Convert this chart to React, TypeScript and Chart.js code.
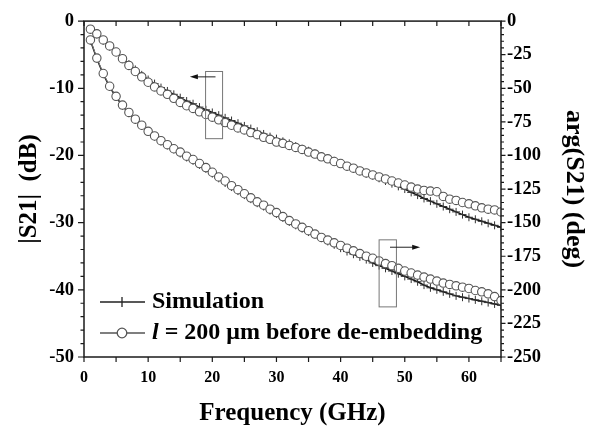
import React, { useEffect, useRef } from "react";
import { Chart, registerables } from "chart.js";
Chart.register(...registerables);

// ---------- data ----------
const freqGHz = [
  1, 2, 3, 4, 5, 6, 7, 8, 9, 10, 11, 12, 13, 14, 15, 16, 17, 18, 19, 20,
  21, 22, 23, 24, 25, 26, 27, 28, 29, 30, 31, 32, 33, 34, 35, 36, 37, 38, 39, 40,
  41, 42, 43, 44, 45, 46, 47, 48, 49, 50, 51, 52, 53, 54, 55, 56, 57, 58, 59, 60,
  61, 62, 63, 64, 65,
];

// |S21| (dB), left axis
const magSim = [
  -1.2, -2.0, -2.9, -3.8, -4.6, -5.5, -6.4, -7.2, -8.0, -8.7,
  -9.3, -9.9, -10.4, -10.9, -11.4, -11.9, -12.3, -12.8, -13.2, -13.6,
  -14.0, -14.4, -14.8, -15.2, -15.6, -16.0, -16.4, -16.8, -17.2, -17.5,
  -17.9, -18.2, -18.6, -19.0, -19.3, -19.7, -20.1, -20.5, -20.8, -21.2,
  -21.6, -21.9, -22.3, -22.7, -23.0, -23.4, -23.8, -24.2, -24.6, -25.0,
  -25.5, -25.9, -26.4, -26.8, -27.2, -27.6, -28.0, -28.4, -28.8, -29.2,
  -29.5, -29.8, -30.1, -30.4, -30.7,
];
const magMeas = [
  -1.2, -1.9, -2.8, -3.7, -4.6, -5.6, -6.6, -7.5, -8.3, -9.1,
  -9.8, -10.4, -10.9, -11.5, -12.1, -12.6, -13.0, -13.5, -13.9, -14.3,
  -14.7, -15.1, -15.5, -15.9, -16.2, -16.6, -16.9, -17.3, -17.6, -18.0,
  -18.2, -18.5, -18.8, -19.1, -19.5, -19.8, -20.2, -20.5, -20.9, -21.2,
  -21.6, -21.9, -22.3, -22.6, -22.9, -23.2, -23.5, -23.8, -24.1, -24.4,
  -24.7, -25.0, -25.2, -25.3, -25.4, -26.1, -26.5, -26.7, -27.0, -27.2,
  -27.5, -27.8, -28.0, -28.1, -28.4,
];

// arg(S21) (deg), right axis
const phaseSim = [
  -14.5, -28, -39.5, -49, -56.5, -63, -68.5, -73.5, -78, -82.5,
  -86, -89.5, -92.5, -95.5, -98.5, -101.5, -104, -107, -110, -113.5,
  -117, -120.5, -123.5, -126.5, -129.5, -132.5, -135.5, -138, -141, -143.5,
  -146.5, -149.5, -152, -154.5, -157, -159, -161.5, -164, -166.5, -169,
  -171.5, -173.5, -175.5, -177.5, -180, -182, -184, -186, -188, -190,
  -192, -194, -196.5, -198.5, -200, -201.5, -203, -204.5, -205.5, -206.5,
  -207.5, -208.5, -209.5, -210.5, -211.5,
];
const phaseMeas = [
  -14, -27.5, -39, -48.5, -56, -62.5, -68, -73, -77.5, -82,
  -85.5, -89, -92, -95, -97.5, -100.5, -103, -106, -109, -112.5,
  -116, -119, -122.5, -125.5, -128.5, -131.5, -134.5, -137, -140, -142.5,
  -145.5, -148.5, -151, -153.5, -156, -158.5, -161, -163, -165, -167,
  -169, -171, -173, -175, -176.5, -178.5, -180.5, -182, -184, -186,
  -187.5, -189, -190.5, -192, -193.5, -195, -196, -197, -198, -199,
  -200.5, -201.5, -203, -205, -208,
];

const legendLabels = ["Simulation", "l", " = 200 \u03bcm before de-embedding"];

// ---------- styling ----------
const FONT = "'Liberation Serif', 'Times New Roman', serif";

const pts = (ys: number[]) => freqGHz.map((x, i) => ({ x, y: ys[i] }));

const framePlugin = {
  id: "frameTicks",
  afterDraw(chart: any) {
    const { ctx, chartArea: a, scales } = chart;
    const x = scales.x, y = scales.y, y2 = scales.y2;
    ctx.save();
    ctx.strokeStyle = "#1a1a1a";
    ctx.lineWidth = 1.5;
    ctx.strokeRect(a.left, a.top, a.right - a.left, a.bottom - a.top);
    ctx.lineWidth = 1.2;
    ctx.beginPath();
    for (let v = 0; v <= 65; v += 5) {
      const px = x.getPixelForValue(v);
      ctx.moveTo(px, a.bottom); ctx.lineTo(px, a.bottom + 5);
      ctx.moveTo(px, a.top); ctx.lineTo(px, a.top + 5);
    }
    for (let v = 0; v >= -50; v -= 2) {
      const py = y.getPixelForValue(v);
      const len = v % 10 === 0 ? 6 : 3.5;
      ctx.moveTo(a.left, py); ctx.lineTo(a.left - len, py);
    }
    for (let v = 0; v >= -250; v -= 5) {
      const py = y2.getPixelForValue(v);
      const len = v % 25 === 0 ? 4.5 : 3;
      ctx.moveTo(a.right, py); ctx.lineTo(a.right + len, py);
    }
    ctx.stroke();

    // annotation boxes & arrows
    const box = (x0: number, x1: number, sy: any, v0: number, v1: number) => {
      const l = x.getPixelForValue(x0), r = x.getPixelForValue(x1);
      const t = sy.getPixelForValue(v0), b = sy.getPixelForValue(v1);
      ctx.strokeStyle = "#777";
      ctx.lineWidth = 1;
      ctx.strokeRect(l, t, r - l, b - t);
    };
    const arrow = (x0: number, x1: number, sy: any, v: number) => {
      const p0 = x.getPixelForValue(x0), p1 = x.getPixelForValue(x1);
      const py = sy.getPixelForValue(v);
      const dir = Math.sign(p1 - p0);
      ctx.strokeStyle = "#222";
      ctx.lineWidth = 1;
      ctx.beginPath();
      ctx.moveTo(p0, py); ctx.lineTo(p1 - dir * 6, py);
      ctx.stroke();
      ctx.fillStyle = "#111";
      ctx.beginPath();
      ctx.moveTo(p1, py);
      ctx.lineTo(p1 - dir * 8, py - 2.5);
      ctx.lineTo(p1 - dir * 8, py + 2.5);
      ctx.closePath();
      ctx.fill();
    };
    box(18.95, 21.6, y, -7.5, -17.5);
    arrow(20.5, 16.5, y, -8.3);
    box(46.0, 48.7, y2, -162.8, -212.7);
    arrow(47.7, 52.4, y2, -168.3);

    // legend
    const lx0 = a.left + 16, lx1 = a.left + 61, mx = a.left + 38, tx = a.left + 68;
    const ly1 = 302, ly2 = 333;
    ctx.lineWidth = 1.3;
    ctx.strokeStyle = "#222";
    ctx.beginPath();
    ctx.moveTo(lx0, ly1); ctx.lineTo(lx1, ly1);
    ctx.moveTo(mx, ly1 - 5); ctx.lineTo(mx, ly1 + 5);
    ctx.stroke();
    ctx.strokeStyle = "#555";
    ctx.beginPath();
    ctx.moveTo(lx0, ly2); ctx.lineTo(lx1, ly2);
    ctx.stroke();
    ctx.fillStyle = "#fff";
    ctx.beginPath();
    ctx.arc(mx, ly2, 4.8, 0, Math.PI * 2);
    ctx.fill();
    ctx.stroke();
    ctx.fillStyle = "#000";
    ctx.textBaseline = "middle";
    ctx.textAlign = "left";
    ctx.font = `bold 24px ${FONT}`;
    ctx.fillText(legendLabels[0], tx, ly1);
    ctx.font = `italic bold 24px ${FONT}`;
    ctx.fillText(legendLabels[1], tx, ly2);
    const w = ctx.measureText(legendLabels[1]).width;
    ctx.font = `bold 24px ${FONT}`;
    ctx.fillText(legendLabels[2], tx + w, ly2);
    ctx.restore();
  },
};

export default function App() {
  const ref = useRef<HTMLCanvasElement>(null);
  useEffect(() => {
    if (!ref.current) return;
    const tickFont = { family: FONT, size: 18.5, weight: "bold" as const };
    const titleFont = { family: FONT, size: 25, weight: "bold" as const, lineHeight: 1 };
    const meas = {
      borderColor: "#777",
      borderWidth: 1,
      pointStyle: "circle" as const,
      pointRadius: 4.2,
      pointBorderWidth: 1.1,
      pointBorderColor: "#555",
      pointBackgroundColor: "#fff",
    };
    const sim = {
      borderColor: "#111",
      borderWidth: 1.5,
      pointStyle: "cross" as const,
      pointRadius: 4,
      pointBorderWidth: 1,
      pointBorderColor: "#333",
    };
    const chart = new Chart(ref.current, {
      type: "line",
      data: {
        datasets: [
          { label: "meas |S21|", data: pts(magMeas), yAxisID: "y", ...meas },
          { label: "meas arg", data: pts(phaseMeas), yAxisID: "y2", ...meas },
          { label: "sim |S21|", data: pts(magSim), yAxisID: "y", ...sim },
          { label: "sim arg", data: pts(phaseSim), yAxisID: "y2", ...sim },
        ],
      },
      options: {
        animation: false,
        responsive: false,
        maintainAspectRatio: false,
        layout: { padding: { top: 19, left: 0, right: 0, bottom: 0 } },
        plugins: { legend: { display: false }, tooltip: { enabled: false } },
        scales: {
          x: {
            type: "linear",
            min: 0,
            max: 65,
            afterFit: (s: any) => { s.height = 69; },
            ticks: { stepSize: 10, includeBounds: false, font: { ...tickFont, size: 16 }, color: "#000", padding: 11, maxRotation: 0 },
            grid: { display: false, drawTicks: false },
            border: { display: false },
            title: { display: true, text: "Frequency (GHz)", font: titleFont, color: "#000", padding: { top: 0, bottom: 0 } },
          },
          y: {
            position: "left",
            min: -50,
            max: 0,
            afterFit: (s: any) => { s.width = 84; },
            ticks: { stepSize: 10, font: tickFont, color: "#000", padding: 10 },
            grid: { display: false, drawTicks: false },
            border: { display: false },
            title: { display: true, text: "|S21|  (dB)", font: titleFont, color: "#000", padding: { top: 17, bottom: 0 } },
          },
          y2: {
            position: "right",
            min: -250,
            max: 0,
            afterFit: (s: any) => { s.width = 88; },
            ticks: { stepSize: 25, font: tickFont, color: "#000", padding: 6 },
            grid: { display: false, drawTicks: false },
            border: { display: false },
            title: { display: true, text: "arg(S21) (deg)", font: { ...titleFont, size: 26 }, color: "#000", padding: { top: 2, bottom: 0 } },
          },
        },
      },
      plugins: [framePlugin],
    });
    return () => chart.destroy();
  }, []);
  return (
    <div style={{ position: "absolute", left: 0, top: 0, width: 589, height: 426, background: "#fff" }}>
      <canvas ref={ref} width={589} height={426} style={{ display: "block" }} />
    </div>
  );
}
